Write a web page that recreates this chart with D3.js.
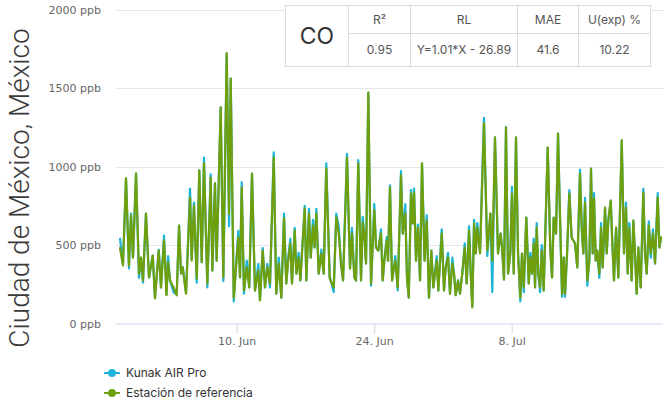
<!DOCTYPE html>
<html>
<head>
<meta charset="utf-8">
<script src="https://cdn.jsdelivr.net/npm/d3@7/dist/d3.min.js"></script>
<style>
  html, body { margin: 0; padding: 0; background: #ffffff; }
  svg { display: block; }
</style>
</head>
<body>
<svg id="chart" width="663" height="405"></svg>
<script>
// ---------------- DATA ----------------
const seriesNames = ["Kunak AIR Pro", "Estación de referencia"];
const seriesColors = ["#1db4d8", "#6f9f0c"];
const yAxisTitle = "Ciudad de México, México";
const yTicks = [0, 500, 1000, 1500, 2000];
const yUnit = " ppb";
const xTickDates = ["2024-06-10", "2024-06-24", "2024-07-08"];
const startTime = "2024-05-28T17:00:00Z";
const endTime = "2024-07-23T09:48:00Z";

// time of each reading, in days since startTime
const tDays = [
  0.41,0.71,1.02,1.32,1.53,1.73,2.04,2.34,2.55,2.75,3.05,3.36,3.74,3.97,4.35,4.58,4.89,5.14,5.30,5.50,5.86,6.18,6.42,6.62,6.79,7.13,7.54,
  7.71,7.94,8.22,8.48,8.73,8.96,9.30,9.64,9.81,10.08,10.25,10.66,10.93,11.27,11.51,11.68,11.99,12.45,12.63,12.80,13.03,13.31,13.57,13.85,14.15,14.49,14.66,14.94,15.17,15.41,15.68,
  16.06,16.32,16.57,16.83,17.11,17.34,17.51,17.75,17.92,18.20,18.36,18.60,18.77,19.22,19.38,19.65,19.83,20.06,20.23,20.40,20.64,20.91,21.15,21.41,21.76,22.17,22.43,22.68,22.91,23.12,23.52,
  23.83,24.03,24.27,24.44,24.67,24.95,25.12,25.28,25.46,25.69,25.97,26.30,26.48,26.71,26.98,27.16,27.32,27.57,27.70,27.90,28.11,28.31,28.44,28.69,29.02,29.20,29.46,29.63,29.81,30.04,30.21,30.35,30.55,30.75,30.96,31.16,31.42,
  31.64,31.87,32.11,32.31,32.66,32.82,33.17,33.40,33.57,33.81,34.01,34.25,34.42,34.59,34.83,35.03,35.26,35.51,35.71,35.95,36.12,36.28,36.46,36.63,36.79,37.07,37.47,37.81,38.12,38.32,38.59,38.90,39.17,39.31,39.51,
  39.71,39.92,40.15,40.32,40.50,40.73,40.94,41.17,41.34,41.52,41.78,42.03,42.19,42.36,42.53,42.67,42.84,43.00,43.18,43.35,43.55,43.96,44.23,44.40,44.57,44.81,45.01,45.24,45.42,45.59,45.72,45.93,46.16,46.40,46.74,46.97,47.25,
  47.42,47.59,47.76,47.99,48.20,48.37,48.54,48.67,48.85,49.01,49.22,49.39,49.56,49.80,49.97,50.13,50.38,50.54,50.71,50.92,51.15,51.50,51.73,51.93,52.11,52.27,52.51,52.68,52.85,53.02,53.19,53.43,53.70,53.87,54.04,54.25,54.45,54.68,54.89,55.16,55.33,55.50
];

// Estación de referencia (ppb)
const referenceValues = [
  480,370,924,370,688,420,955,318,420,274,700,293,433,160,465,230,530,180,390,274,230,180,624,318,357,190,800,
  400,750,287,975,390,1020,255,930,337,892,400,1376,293,1720,700,1560,165,548,293,866,210,357,230,955,210,337,147,465,230,357,255,
  1057,190,382,165,669,255,382,510,255,592,318,420,274,733,274,700,420,624,484,700,318,446,318,987,287,230,675,573,382,274,1057,
  350,573,293,274,1020,274,643,573,382,1470,255,720,484,465,573,274,400,528,400,866,274,357,400,230,943,573,700,293,165,828,637,834,400,611,274,1020,400,
  656,165,465,230,400,210,573,210,357,420,190,382,318,180,274,190,318,484,255,592,318,102,637,446,611,446,1275,465,700,400,1185,446,573,484,280,
  1249,318,446,828,318,1185,446,165,446,230,675,255,420,318,510,230,611,318,230,465,210,1121,465,293,675,573,1210,611,190,420,190,446,828,548,510,357,955,
  611,446,771,274,400,987,446,796,400,465,318,611,357,739,446,656,783,510,274,611,293,1166,446,739,318,611,274,656,446,190,484,230,834,446,318,624,446,573,382,803,484,548
];

// Kunak AIR Pro (ppb)
const kunakValues = [
  540,380,924,350,700,420,955,290,420,260,700,293,433,165,470,230,560,185,430,274,200,185,624,318,360,195,860,
  410,770,260,975,390,1057,230,950,337,892,400,1376,270,1720,620,1560,140,590,293,900,190,400,230,955,210,380,150,480,230,380,230,
  1090,190,420,165,700,255,400,540,255,610,318,450,274,750,274,730,420,660,484,730,318,470,318,1020,300,200,700,620,382,274,1080,
  350,610,293,274,1040,274,680,573,382,1470,240,760,484,465,600,274,400,550,400,880,274,357,430,210,970,573,760,293,165,850,637,860,400,630,274,1020,400,
  690,165,465,230,430,210,600,210,357,450,190,420,318,180,274,190,318,510,255,620,318,110,660,446,640,460,1310,430,700,200,1185,446,573,484,280,
  1249,318,446,870,318,1185,446,140,446,200,675,255,450,318,540,230,640,318,200,500,210,1121,465,293,675,573,1210,611,170,420,170,446,850,548,510,357,980,
  611,446,800,240,400,987,446,830,400,465,290,640,357,739,446,656,783,510,274,611,293,1166,446,770,318,640,274,656,446,190,484,230,860,446,318,650,420,600,382,830,484,548
];

// Statistics table
const tablePollutant = "CO";
const tableHeaders = ["R²", "RL", "MAE", "U(exp) %"];
const tableValues = ["0.95", "Y=1.01*X - 26.89", "41.6", "10.22"];

// ---------------- DRAW ----------------
const svg = d3.select("#chart");
const plot = { left: 116, right: 663, top: 9.5, bottom: 323.5 };

const t0 = new Date(startTime);
const toDate = d => new Date(t0.getTime() + d * 86400000);

const x = d3.scaleUtc()
  .domain([new Date(startTime), new Date(endTime)])
  .range([plot.left, plot.right]);
const y = d3.scaleLinear()
  .domain([0, 2000])
  .range([plot.bottom, plot.top]);

// grid lines
svg.append("g")
  .selectAll("line")
  .data(yTicks.filter(v => v > 0))
  .join("line")
  .attr("x1", plot.left).attr("x2", plot.right)
  .attr("y1", d => Math.round(y(d)) + 0.5).attr("y2", d => Math.round(y(d)) + 0.5)
  .attr("stroke", "#e6e6e6").attr("stroke-width", 1);

// y axis labels
const yAxis = d3.axisLeft(y)
  .tickValues(yTicks)
  .tickSize(0)
  .tickPadding(0)
  .tickFormat(d => d + yUnit);
const gy = svg.append("g").attr("transform", `translate(${plot.left - 15},0)`).call(yAxis);
gy.select(".domain").remove();
gy.selectAll("text")
  .attr("fill", "#666666")
  .style("font-family", "'DejaVu Sans', sans-serif")
  .style("font-size", "11px");

// x axis
const xAxis = d3.axisBottom(x)
  .tickValues(xTickDates.map(s => new Date(s + "T00:00:00Z")))
  .tickSize(10)
  .tickPadding(4)
  .tickFormat(d3.utcFormat("%-d. %b"));
const gx = svg.append("g").attr("transform", `translate(0,${plot.bottom})`).call(xAxis);
gx.select(".domain").attr("stroke", "#ccd6eb").attr("d", `M${plot.left},0.5H${plot.right}`);
gx.selectAll(".tick line").attr("stroke", "#ccd6eb");
gx.selectAll("text")
  .attr("fill", "#666666")
  .style("font-family", "'DejaVu Sans', sans-serif")
  .style("font-size", "11px");

// y axis title
svg.append("text")
  .attr("transform", `translate(29,188) rotate(-90)`)
  .attr("text-anchor", "middle")
  .attr("fill", "#3a3a3a")
  .style("font-family", "Roboto, 'Liberation Sans', sans-serif")
  .style("font-weight", 300)
  .style("font-size", "28px")
  .text(yAxisTitle);

// clip
svg.append("clipPath").attr("id", "clip")
  .append("rect")
  .attr("x", plot.left).attr("y", 0)
  .attr("width", plot.right - plot.left).attr("height", plot.bottom);

const line = d3.line()
  .x((d, i) => x(toDate(tDays[i])))
  .y(d => y(d));

const seriesData = [kunakValues, referenceValues];
svg.append("g").attr("clip-path", "url(#clip)")
  .selectAll("path")
  .data(seriesData)
  .join("path")
  .attr("d", d => line(d))
  .attr("fill", "none")
  .attr("stroke", (d, i) => seriesColors[i])
  .attr("stroke-width", 2.2)
  .attr("stroke-linejoin", "round")
  .attr("stroke-linecap", "round");

// legend
const legend = svg.append("g").attr("transform", "translate(104,373)");
seriesNames.forEach((name, i) => {
  const g = legend.append("g").attr("transform", `translate(0,${i * 20})`);
  g.append("line").attr("x1", 0).attr("x2", 16).attr("y1", 0).attr("y2", 0)
    .attr("stroke", seriesColors[i]).attr("stroke-width", 2);
  g.append("circle").attr("cx", 8).attr("cy", 0).attr("r", 4).attr("fill", seriesColors[i]);
  g.append("text").attr("x", 22).attr("y", 0).attr("dy", "0.35em")
    .attr("fill", "#333333")
    .style("font-family", "Inter, sans-serif")
    .style("font-size", "12px")
    .text(name);
});

// statistics table
const tbl = { left: 285.5, top: 5.5, rowH: 28, cols: [285.5, 348.5, 410.5, 517.5, 578.5, 650.5] };
const tg = svg.append("g");
tg.append("rect")
  .attr("x", tbl.left).attr("y", tbl.top)
  .attr("width", tbl.cols[5] - tbl.cols[0]).attr("height", tbl.rowH * 2 + 5)
  .attr("fill", "#ffffff").attr("stroke", "#dcdcdc");
const tableBottom = tbl.top + tbl.rowH * 2 + 5;
const rowMid = tbl.top + tbl.rowH;
tg.append("line").attr("x1", tbl.cols[1]).attr("x2", tbl.cols[5])
  .attr("y1", rowMid).attr("y2", rowMid).attr("stroke", "#dcdcdc");
tbl.cols.slice(1, 5).forEach(c => {
  tg.append("line").attr("x1", c).attr("x2", c).attr("y1", tbl.top).attr("y2", tableBottom)
    .attr("stroke", "#dcdcdc");
});
tg.append("text")
  .attr("x", (tbl.cols[0] + tbl.cols[1]) / 2).attr("y", (tbl.top + tableBottom) / 2)
  .attr("dy", "0.36em").attr("text-anchor", "middle")
  .attr("fill", "#333333")
  .style("font-family", "Inter, sans-serif").style("font-size", "23px")
  .text(tablePollutant);
tableHeaders.forEach((h, i) => {
  tg.append("text")
    .attr("x", (tbl.cols[i + 1] + tbl.cols[i + 2]) / 2).attr("y", (tbl.top + rowMid) / 2)
    .attr("dy", "0.36em").attr("text-anchor", "middle")
    .attr("fill", "#555555")
    .style("font-family", "Inter, sans-serif").style("font-size", "12px")
    .text(h);
});
tableValues.forEach((v, i) => {
  tg.append("text")
    .attr("x", (tbl.cols[i + 1] + tbl.cols[i + 2]) / 2).attr("y", (rowMid + tableBottom) / 2)
    .attr("dy", "0.36em").attr("text-anchor", "middle")
    .attr("fill", "#555555")
    .style("font-family", "Inter, sans-serif").style("font-size", "12px")
    .text(v);
});
</script>
</body>
</html>
